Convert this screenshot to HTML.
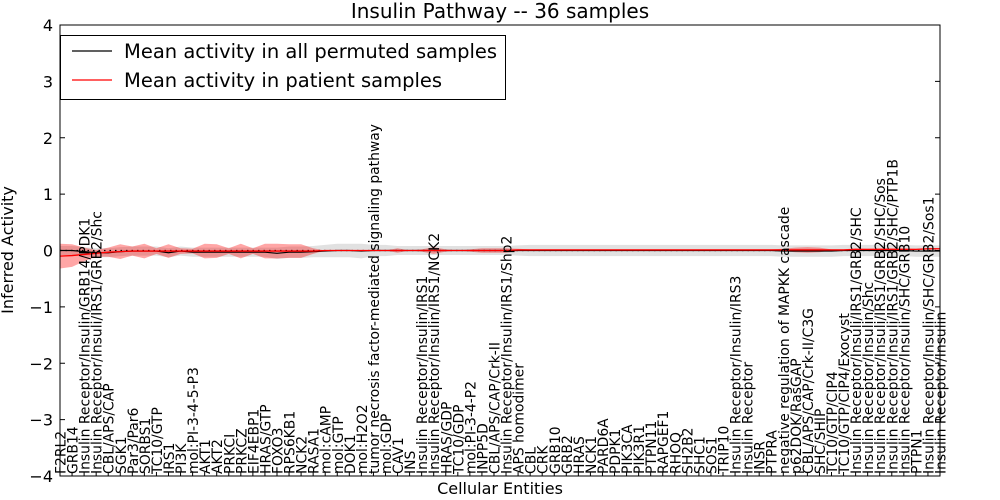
<!DOCTYPE html>
<html><head><meta charset="utf-8"><style>
html,body{margin:0;padding:0;background:#fff;}
svg{display:block;font-family:"DejaVu Sans","Liberation Sans",sans-serif;}
</style></head><body>
<svg id="chart" width="1000" height="500" viewBox="0 0 1000 500">
<rect x="0" y="0" width="1000" height="500" fill="#fff"/>
<text x="500" y="18" text-anchor="middle" font-size="20">Insulin Pathway -- 36 samples</text>
<g id="bands"></g>
<g id="lines"></g>
<g id="xlabels"></g>
<g id="yaxis"></g>
<rect x="60" y="25" width="880" height="451" fill="none" stroke="#000" stroke-width="1"/>
<g>
<rect x="60.5" y="35.5" width="445" height="64" fill="#fff" stroke="#000"/>
<line x1="72" y1="51" x2="112" y2="51" stroke="#000" stroke-width="1.2"/>
<text x="124" y="58" font-size="19.5">Mean activity in all permuted samples</text>
<line x1="72" y1="80" x2="112" y2="80" stroke="#f00" stroke-width="1.2"/>
<text x="124" y="87" font-size="19.5">Mean activity in patient samples</text>
</g>
<text x="500" y="494" text-anchor="middle" font-size="16">Cellular Entities</text>
<text transform="translate(13,250) rotate(-90)" text-anchor="middle" font-size="16">Inferred Activity</text>
</svg>
<script>
const categories = ["F2RL2","GRB14","Insulin Receptor/Insulin/GRB14/PDK1","Insulin Receptor/Insuli/IRS1/GRB2/Shc","CBL/APS/CAP","SGK1","Par3/Par6","SORBS1","TC10/GTP","IRS1","PI3K","mol:PI-3-4-5-P3","AKT1","AKT2","PRKCI","PRKCZ","EIF4EBP1","HRAS/GTP","FOXO3","RPS6KB1","NCK2","RASA1","mol:cAMP","mol:GTP","DOK1","mol:H2O2","tumor necrosis factor-mediated signaling pathway","mol:GDP","CAV1","INS","Insulin Receptor/Insulin/IRS1","Insulin Receptor/Insulin/IRS1/NCK2","HRAS/GDP","TC10/GDP","mol:PI-3-4-P2","INPP5D","CBL/APS/CAP/Crk-II","Insulin Receptor/Insulin/IRS1/Shp2","APS homodimer","CBL","CRK","GRB10","GRB2","HRAS","NCK1","PARD6A","PDPK1","PIK3CA","PIK3R1","PTPN11","RAPGEF1","RHOQ","SH2B2","SHC1","SOS1","TRIP10","Insulin Receptor/Insulin/IRS3","Insulin Receptor","INSR","PTPRA","negative regulation of MAPKK cascade","p62DOK/RasGAP","CBL/APS/CAP/Crk-II/C3G","SHC/SHIP","TC10/GTP/CIP4","TC10/GTP/CIP4/Exocyst","Insulin Receptor/Insuli/IRS1/GRB2/SHC","Insulin Receptor/Insulin/Shc","Insulin Receptor/Insuli/IRS1/GRB2/SHC/Sos","Insulin Receptor/Insuli/IRS1/GRB2/SHC/PTP1B","Insulin Receptor/Insulin/SHC/GRB10","PTPN1","Insulin Receptor/Insulin/SHC/GRB2/Sos1","Insulin Receptor/Insulin"];
const patientMean = [-0.1,-0.09,-0.07,-0.05,-0.03,-0.02,-0.01,-0.01,-0.01,-0.01,-0.01,-0.01,-0.01,-0.01,-0.01,-0.01,-0.01,-0.01,-0.01,-0.01,-0.01,-0.01,0,0,0,0,0,0,0,0,0,0,0,0,0,0,0,0,0.01,0.01,0.01,0.01,0.01,0.01,0.01,0.01,0.01,0.01,0.01,0.01,0.01,0.01,0.01,0.01,0.01,0.01,0.01,0.01,0.01,0.01,0.01,0.01,0.01,0.01,0.01,0.01,0.02,0.02,0.02,0.02,0.02,0.02,0.03,0.03];
const patientSpread = [0.22,0.2,0.12,0.06,0.08,0.13,0.08,0.13,0.05,0.12,0.05,0.04,0.13,0.12,0.05,0.13,0.05,0.13,0.13,0.12,0.12,0.05,0,0,0,0,0,0,0.04,0,0.02,0.06,0.02,0,0.02,0.04,0.04,0.04,0.02,0.01,0.01,0.01,0.01,0.01,0.01,0.01,0.01,0.01,0.01,0.01,0.01,0.01,0.01,0.01,0.01,0.01,0.01,0.01,0.01,0.01,0.02,0.04,0.05,0.04,0.01,0.01,0.02,0.01,0.02,0.02,0.02,0.01,0.01,0.01];
const permutedMean = [0,0,-0.02,-0.04,-0.04,-0.02,-0.01,-0.01,-0.01,-0.04,-0.01,-0.03,-0.03,-0.03,-0.03,-0.03,-0.03,-0.03,-0.05,-0.03,-0.03,-0.02,-0.01,0,0,-0.01,0,0,0,0,0,0,0,0,0,0,0,0,0,0,0,0,0,0,0,0,0,0,0,0,0,0,0,0,0,0,0,0,0,0,-0.01,-0.01,-0.01,-0.01,-0.01,0,0,0,0,0,0,-0.01,-0.01,-0.01];
const permutedSpread = [0.08,0.08,0.08,0.08,0.08,0.08,0.08,0.08,0.08,0.08,0.08,0.08,0.08,0.08,0.08,0.08,0.08,0.08,0.1,0.1,0.1,0.1,0.11,0.12,0.12,0.13,0.1,0.1,0.08,0.08,0.08,0.08,0.08,0.08,0.08,0.08,0.08,0.08,0.09,0.1,0.1,0.1,0.1,0.1,0.1,0.1,0.1,0.1,0.1,0.1,0.1,0.1,0.1,0.1,0.1,0.1,0.1,0.1,0.1,0.1,0.1,0.1,0.1,0.1,0.1,0.1,0.1,0.1,0.1,0.1,0.1,0.1,0.1,0.1];
const yTicks = [4,3,2,1,0,-1,-2,-3,-4];
const yTickLabels = ["4","3","2","1","0","\u22121","\u22122","\u22123","\u22124"];

const NS = "http://www.w3.org/2000/svg";
const L = 60, R = 940, T = 25, B = 476;
const yMin = -4, yMax = 4;
function xPos(i){ return L + i * (R - L) / (categories.length - 1); }
function yPos(v){ return B - (v - yMin) / (yMax - yMin) * (B - T); }
function mk(tag, attrs, parent){ const e = document.createElementNS(NS, tag); for (const k in attrs) e.setAttribute(k, attrs[k]); parent.appendChild(e); return e; }

function bandPath(mean, spread){
  let up = [], dn = [];
  for (let i = 0; i < categories.length; i++){
    up.push(xPos(i).toFixed(2) + "," + yPos(mean[i] + spread[i]).toFixed(2));
    dn.unshift(xPos(i).toFixed(2) + "," + yPos(mean[i] - spread[i]).toFixed(2));
  }
  return "M" + up.join(" L") + " L" + dn.join(" L") + " Z";
}
function linePath(mean){
  return "M" + mean.map((v,i)=> xPos(i).toFixed(2) + "," + yPos(v).toFixed(2)).join(" L");
}
const bands = document.getElementById("bands");
const g1 = mk("path", {d: bandPath(permutedMean, permutedSpread), fill: "#d9d9d9", "fill-opacity": "0.8"}, bands);


const r1 = mk("path", {d: bandPath(patientMean, patientSpread), fill: "#f00", "fill-opacity": "0.35"}, bands);



const lines = document.getElementById("lines");
const zl = mk("line", {x1: L, x2: R, y1: yPos(0), y2: yPos(0), stroke: "#000", "stroke-width": 1.2, "stroke-dasharray": "1.5,4"}, lines);


const bl = mk("path", {d: linePath(permutedMean), fill: "none", stroke: "#000", "stroke-width": 1.2}, lines);


const rl = mk("path", {d: linePath(patientMean), fill: "none", stroke: "#f00", "stroke-width": 1.3}, lines);



const xl = document.getElementById("xlabels");
categories.forEach((c, i) => {
  const x = xPos(i);
  const t = mk("text", {transform: "translate(" + (x + 5.5).toFixed(2) + ",474) rotate(-90)", "font-size": "13.9"}, xl);
  t.textContent = c;
  
  
  const tk = mk("line", {x1: x, x2: x, y1: B, y2: B - 4, stroke: "#000"}, xl);
  
  
});

const ya = document.getElementById("yaxis");
yTicks.forEach((v, i) => {
  const y = yPos(v);
  const a = mk("line", {x1: L, x2: L + 5, y1: y, y2: y, stroke: "#000"}, ya);
  
  
  const b = mk("line", {x1: R - 5, x2: R, y1: y, y2: y, stroke: "#000"}, ya);
  
  
  const t = mk("text", {x: L - 7, y: y + 6, "text-anchor": "end", "font-size": "16"}, ya);
  t.textContent = yTickLabels[i];
  
  
});
</script>
</body></html>
